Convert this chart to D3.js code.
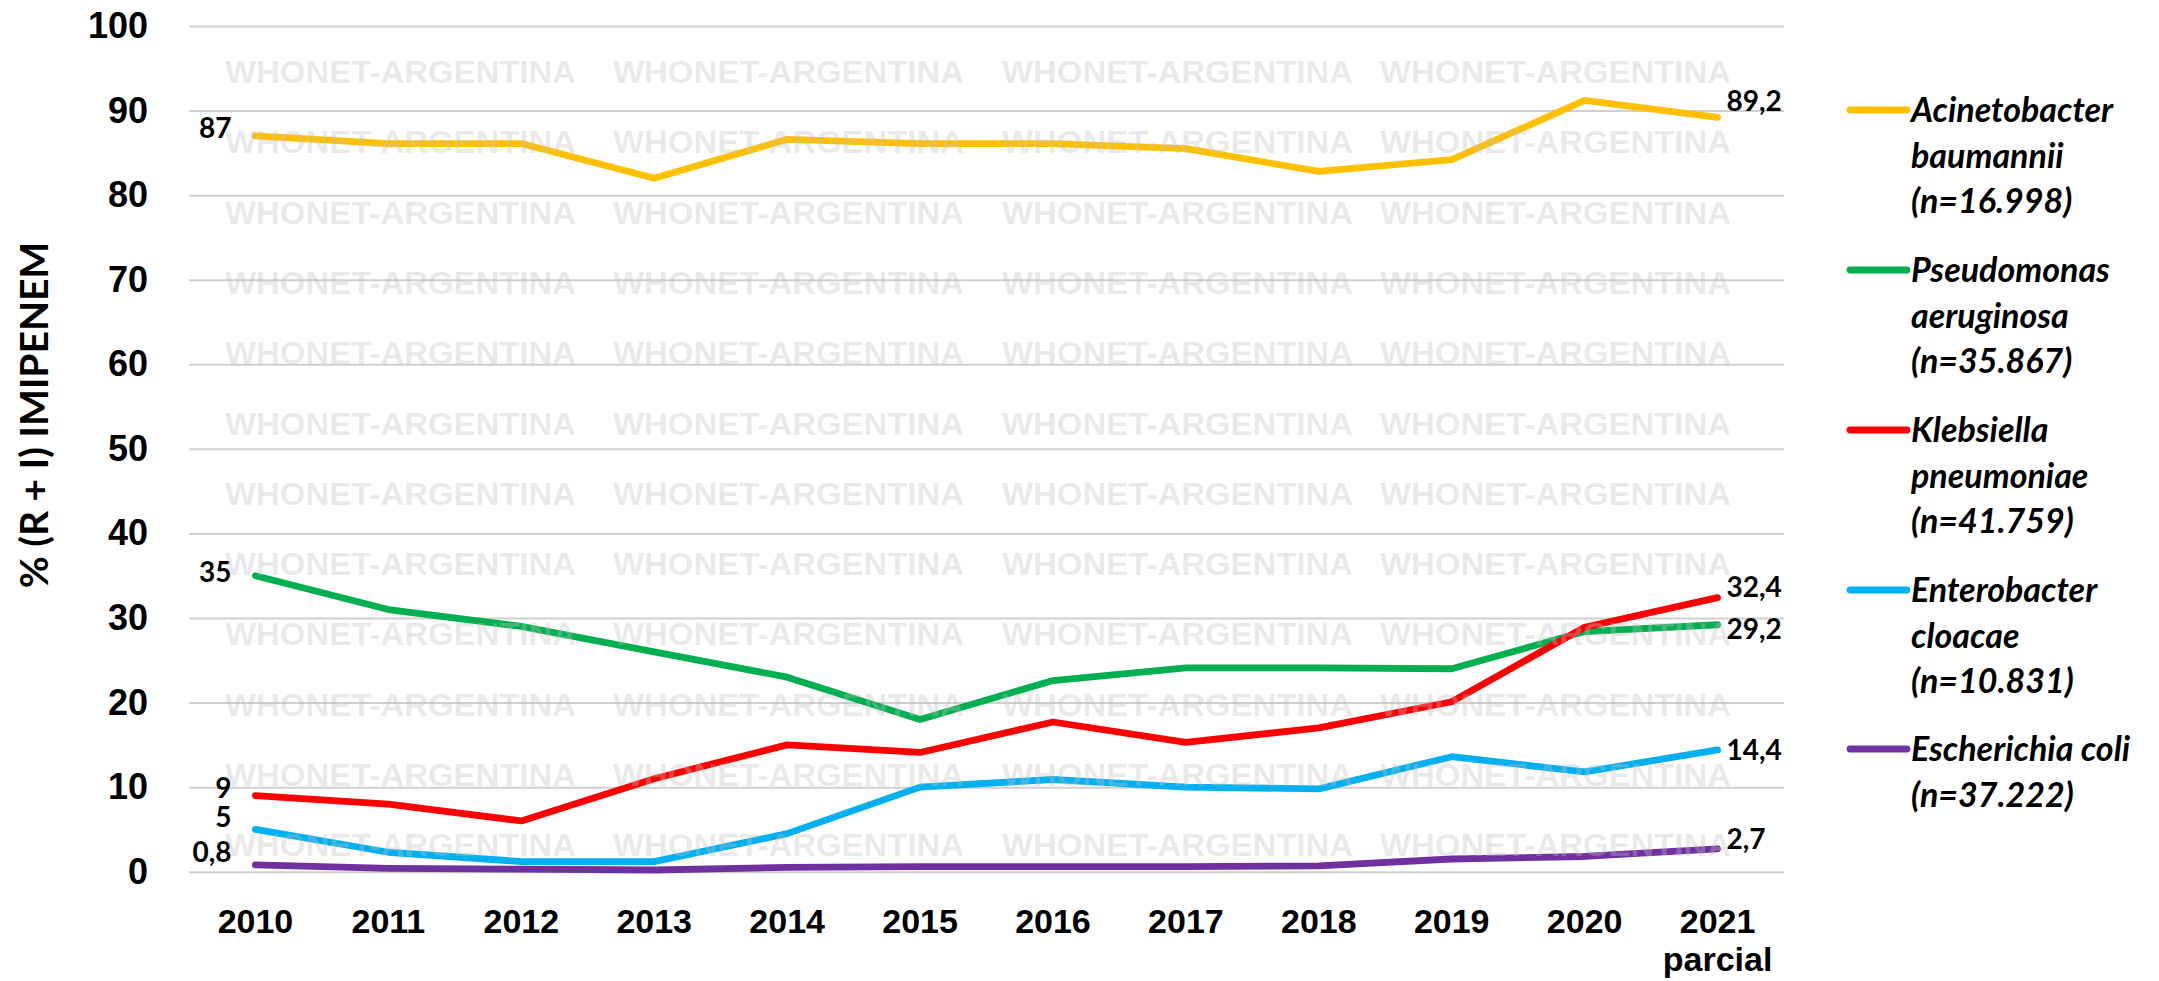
<!DOCTYPE html>
<html>
<head>
<meta charset="utf-8">
<script src="https://cdn.jsdelivr.net/npm/d3@7"></script>
<style>
  body { margin: 0; background: #fff; }
  svg { display: block; font-family: Lato, "Open Sans", sans-serif; }
  .axis text { font-weight: bold; fill: #000; }
</style>
</head>
<body>
<svg id="chart" width="2159" height="981"></svg>
<script>
// years on the x axis (the last one is partial)
const years = ["2010", "2011", "2012", "2013", "2014", "2015", "2016", "2017", "2018", "2019", "2020", "2021"];
const yTicks = [0, 10, 20, 30, 40, 50, 60, 70, 80, 90, 100];

// % (R + I) imipenem per species
const acinetobacter = [87, 86.1, 86.1, 82, 86.6, 86.1, 86.1, 85.5, 82.8, 84.2, 91.2, 89.2];
const pseudomonas   = [35, 31, 29, 26, 23, 18, 22.6, 24.1, 24.1, 24, 28.4, 29.2];
const klebsiella    = [9, 8, 6, 11, 15, 14.1, 17.7, 15.3, 17, 20.1, 28.9, 32.4];
const enterobacter  = [5, 2.3, 1.2, 1.2, 4.5, 10, 10.9, 10, 9.8, 13.6, 11.8, 14.4];
const ecoli         = [0.8, 0.4, 0.3, 0.2, 0.5, 0.6, 0.6, 0.6, 0.7, 1.5, 1.8, 2.7];

const seriesNames = [
    ["Acinetobacter", "baumannii", "(n=16.998)"],
    ["Pseudomonas", "aeruginosa", "(n=35.867)"],
    ["Klebsiella", "pneumoniae", "(n=41.759)"],
    ["Enterobacter", "cloacae", "(n=10.831)"],
    ["Escherichia coli", "(n=37.222)"]
];
const seriesValues = [acinetobacter, pseudomonas, klebsiella, enterobacter, ecoli];
const colors = ["#FFC000", "#00B050", "#FF0000", "#00B0F0", "#7030A0"];
// vertical nudges for the first/last value labels (px)
const firstLabelDy = [-8, -4, -8, -12, -13];
const lastLabelDy = [-16, 4, -11, 0, -10];

const svg = d3.select("#chart");
const margin = {left: 189, right: 2159 - 1784, top: 26, bottom: 981 - 871.7};
const W = 2159, H = 981;

const x = d3.scaleBand().domain(years).range([margin.left, W - margin.right]);
const cx = d => x(d) + x.bandwidth() / 2;
const y = d3.scaleLinear().domain([0, 100]).range([H - margin.bottom, margin.top]);

// gridlines + y labels
const axisY = d3.axisLeft(y).tickValues(yTicks).tickSizeInner(-(W - margin.left - margin.right))
    .tickSizeOuter(0).tickPadding(41);
const gy = svg.append("g").attr("class", "axis axisY")
    .attr("transform", `translate(${margin.left},0)`)
    .call(axisY);
gy.select(".domain").remove();
gy.selectAll("line").attr("stroke", "#d0d0d0").attr("stroke-width", 2);
gy.selectAll("text").style("font-size", "36px");

// x labels
const axisX = d3.axisBottom(x).tickSize(0);
const gx = svg.append("g").attr("class", "axis axisX")
    .attr("transform", `translate(0,${y(0)})`)
    .call(axisX);
gx.select(".domain").remove();
gx.selectAll("text").style("font-size", "34px").attr("y", 61).attr("dy", null);
gx.selectAll(".tick").filter(d => d === "2021").select("text")
    .append("tspan").attr("x", 0).attr("dy", 38).text("parcial");

// lines
const lineGen = d3.line().x((d, i) => cx(years[i])).y(d => y(d));
svg.append("g").selectAll("path")
    .data(seriesValues)
    .enter().append("path")
    .attr("d", d => lineGen(d))
    .attr("fill", "none")
    .attr("stroke", (d, i) => colors[i])
    .attr("stroke-width", 6.8)
    .attr("stroke-linejoin", "round")
    .attr("stroke-linecap", "round");

// first / last value labels
const fmt = v => String(v).replace(".", ",");
const labels = svg.append("g").style("font-size", "28px").style("font-weight", "bold");
seriesValues.forEach((vals, i) => {
    const last = vals.length - 1;
    labels.append("text")
        .attr("x", cx(years[0]) - 24)
        .attr("y", y(vals[0]) + firstLabelDy[i])
        .attr("dy", "0.36em")
        .attr("text-anchor", "end")
        .text(fmt(vals[0]));
    labels.append("text")
        .attr("x", cx(years[last]) + 9)
        .attr("y", y(vals[last]) + lastLabelDy[i])
        .attr("dy", "0.36em")
        .text(fmt(vals[last]));
});

// watermark, semi transparent over everything in the plot
const wmCols = [225, 613, 1002, 1380];
const wmRows = d3.range(12).map(r => 72 + r * 70.3);
const wm = svg.append("g")
    .style("font-family", "'Liberation Sans', Arial, sans-serif")
    .style("font-weight", "bold")
    .style("font-size", "31px")
    .attr("fill", "#c0c0c0")
    .attr("fill-opacity", 0.35);
wmRows.forEach(ry => wmCols.forEach(cxw => {
    wm.append("text").attr("x", cxw).attr("y", ry + 11)
        .attr("textLength", 351).attr("lengthAdjust", "spacingAndGlyphs")
        .text("WHONET-ARGENTINA");
}));

// y title
svg.append("text")
    .attr("transform", "translate(48,415) rotate(-90)")
    .attr("text-anchor", "middle")
    .style("font-size", "39px").style("font-weight", "bold")
    .text("% (R + I) IMIPENEM");

// legend
const legendTop = [110, 270, 430, 590, 749];
const legend = svg.append("g");
seriesNames.forEach((names, i) => {
    const g = legend.append("g").attr("transform", `translate(1850,${legendTop[i]})`);
    g.append("line").attr("x1", 0).attr("x2", 57).attr("y1", 0).attr("y2", 0)
        .attr("stroke", colors[i]).attr("stroke-width", 6.8).attr("stroke-linecap", "round");
    g.selectAll("text").data(names).enter().append("text")
        .attr("x", 61).attr("y", (d, j) => 12 + j * 45.5)
        .style("font-size", "34px").style("font-weight", "bold").style("font-style", "italic")
        .text(d => d);
});
</script>
</body>
</html>
